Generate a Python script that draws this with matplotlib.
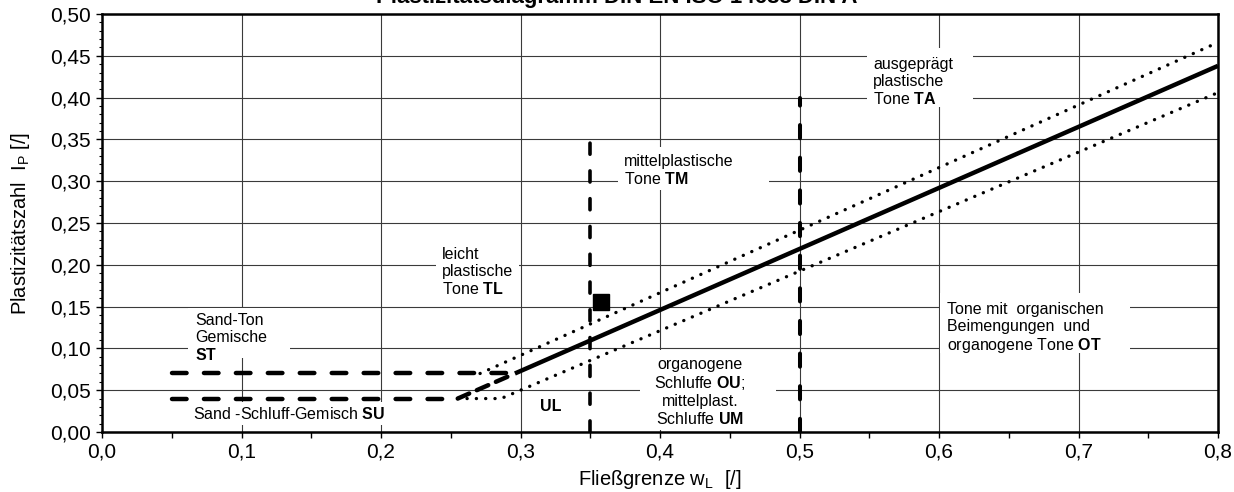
import matplotlib
matplotlib.use("Agg")
import matplotlib.pyplot as plt
from matplotlib.patches import Rectangle
from matplotlib.ticker import MultipleLocator, FuncFormatter

plt.rcParams["font.family"] = ["Liberation Sans", "DejaVu Sans"]
plt.rcParams["mathtext.fontset"] = "custom"
plt.rcParams["mathtext.rm"] = "Liberation Sans"
plt.rcParams["mathtext.it"] = "Liberation Sans"
plt.rcParams["mathtext.bf"] = "Liberation Sans:bold"
plt.rcParams["lines.scale_dashes"] = False

# --- Plasticity chart data (liquid limit w_L, plasticity index I_P) ---
a_line_w = [0.296, 0.80]
a_line_ip = [0.070, 0.438]
a_ext_w = [0.255, 0.296]
a_ext_ip = [0.040, 0.070]
upper_w = [0.271, 0.80]
upper_ip = [0.070, 0.466]
lower_w = [0.255, 0.286, 0.80]
lower_ip = [0.040, 0.040, 0.406]
st_w = [0.05, 0.296]
st_ip = [0.07, 0.07]
su_w = [0.05, 0.255]
su_ip = [0.04, 0.04]
ul_w = [0.35, 0.35]
ul_ip = [0.0, 0.35]
ta_w = [0.50, 0.50]
ta_ip = [0.0, 0.40]
sample_w = [0.358]
sample_ip = [0.155]

x_ticks = [0.0, 0.1, 0.2, 0.3, 0.4, 0.5, 0.6, 0.7, 0.8]
y_ticks = [0.00, 0.05, 0.10, 0.15, 0.20, 0.25, 0.30, 0.35, 0.40, 0.45, 0.50]

fig = plt.figure(figsize=(12.34, 4.92), dpi=100)
ax = fig.add_axes([102 / 1234, 60 / 492, 1116 / 1234, 418 / 492])
ax.set_xlim(0.0, 0.8)
ax.set_ylim(0.0, 0.5)

# grid
ax.set_xticks(x_ticks)
ax.set_yticks(y_ticks)
ax.xaxis.set_minor_locator(MultipleLocator(0.05))
ax.yaxis.set_minor_locator(MultipleLocator(0.01))
ax.grid(True, which="major", color="#3a3a3a", linewidth=0.8, zorder=0)
ax.set_axisbelow(True)
ax.xaxis.set_major_formatter(FuncFormatter(lambda v, p: f"{v:.1f}".replace(".", ",")))
ax.yaxis.set_major_formatter(FuncFormatter(lambda v, p: f"{v:.2f}".replace(".", ",")))
ax.tick_params(axis="both", which="major", direction="out", length=4.5, width=1.0,
               labelsize=15, color="black")
ax.tick_params(axis="x", which="major", pad=3)
ax.tick_params(axis="x", which="minor", direction="out", length=4.5, width=1.0)
ax.tick_params(axis="y", which="minor", direction="out", length=2.5, width=0.8)
for s in ax.spines.values():
    s.set_linewidth(1.8)

# white label boxes hiding the grid
def wbox(x0, x1, y0, y1):
    ax.add_patch(Rectangle((x0, y0), x1 - x0, y1 - y0, facecolor="white",
                           edgecolor="none", zorder=1))

wbox(0.0616, 0.1348, 0.088, 0.148)   # ST
wbox(0.0620, 0.2050, 0.008, 0.036)   # SU
wbox(0.2394, 0.2989, 0.1555, 0.2273) # TL
wbox(0.3699, 0.4782, 0.2895, 0.3409) # TM
wbox(0.5484, 0.6244, 0.3888, 0.4593) # TA
wbox(0.6007, 0.7369, 0.0945, 0.1663) # OT
wbox(0.3857, 0.4832, 0.0024, 0.0980) # OU / UM

# boundary lines
ax.plot(a_line_w, a_line_ip, color="black", linewidth=3.2, solid_capstyle="butt", zorder=4)
ax.plot(a_ext_w, a_ext_ip, color="black", linewidth=3.2, dashes=(9, 6),
        dash_capstyle="round", zorder=4)
dot_style = (0, (0.1, 6.6))
ax.plot(upper_w, upper_ip, color="black", linewidth=2.4, linestyle=dot_style,
        dash_capstyle="round", zorder=4)
ax.plot(lower_w, lower_ip, color="black", linewidth=2.4, linestyle=dot_style,
        dash_capstyle="round", zorder=4)
ax.plot(st_w, st_ip, color="black", linewidth=3.2, dashes=(10.5, 12.5),
        dash_capstyle="round", zorder=4)
ax.plot(su_w, su_ip, color="black", linewidth=3.2, dashes=(10.5, 12.5),
        dash_capstyle="round", zorder=4)
ax.plot(ul_w, ul_ip, color="black", linewidth=2.6, dashes=(8.0, 12.0),
        dash_capstyle="round", zorder=4)
ax.plot(ta_w, ta_ip, color="black", linewidth=2.9, dashes=(9.5, 14.0),
        dash_capstyle="round", zorder=4)
ax.plot(sample_w, sample_ip, marker="s", markersize=11.5, color="black",
        linestyle="none", zorder=5)

# zone labels
tk = dict(fontsize=11.5, color="black", zorder=3, linespacing=1.15)
ax.text(0.0667, 0.1423, "Sand-Ton\nGemische\n$\\mathbf{ST}$", ha="left", va="top", **tk)
ax.text(0.0652, 0.0220, "Sand -Schluff-Gemisch $\\mathbf{SU}$", ha="left", va="center", **tk)
ax.text(0.2437, 0.2213, "leicht\nplastische\nTone $\\mathbf{TL}$", ha="left", va="top", **tk)
ax.text(0.3742, 0.3325, "mittelplastische\nTone $\\mathbf{TM}$", ha="left", va="top", **tk)
ax.text(0.5527, 0.4486, "ausgeprägt\nplastische\nTone $\\mathbf{TA}$", ha="left", va="top", **tk)
ax.text(0.6057, 0.1555,
        "Tone mit  organischen\nBeimengungen  und\norganogene Tone $\\mathbf{OT}$",
        ha="left", va="top", **tk)
ax.text(0.4287, 0.0897,
        "organogene\nSchluffe $\\mathbf{OU}$;\nmittelplast.\nSchluffe $\\mathbf{UM}$",
        ha="center", va="top", multialignment="center", **tk)
ax.text(0.3219, 0.0311, "UL", ha="center", va="center", fontweight="bold",
        fontsize=11.5, zorder=3)

ax.set_xlabel("Fließgrenze w$_\\mathrm{L}$  [/]", fontsize=14.5, labelpad=5)
ax.set_ylabel("Plastizitätszahl  I$_\\mathrm{P}$ [/]", fontsize=14.5, labelpad=13)

fig.text(0.5, 1 - 3.5 / 492, "Plastizitätsdiagramm DIN EN ISO 14688 DIN A",
         ha="center", va="baseline", fontsize=16, fontweight="bold")

fig.savefig("out.png", dpi=100)
